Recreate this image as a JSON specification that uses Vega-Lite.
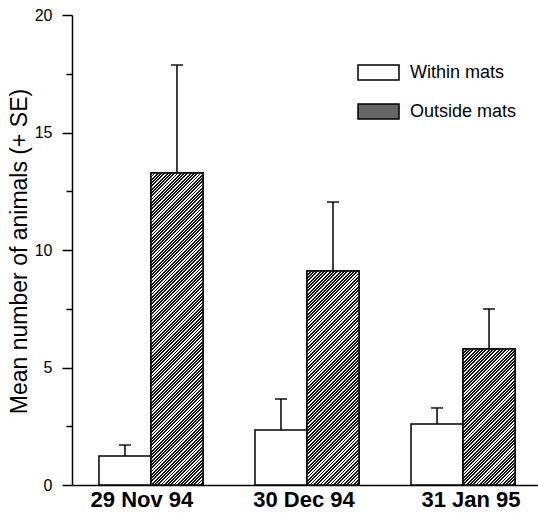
{
  "$schema": "https://vega.github.io/schema/vega-lite/v6.json",
  "width": 466,
  "height": 470,
  "autosize": {"type": "none"},
  "padding": {"left": 72, "top": 15, "right": 0, "bottom": 32},
  "background": "white",
  "config": {"view": {"stroke": null}, "font": "Liberation Sans"},
  "data": {
    "values": [
      {"date": "29 Nov 94", "site": "Within mats", "mean": 1.23, "upper": 1.7},
      {"date": "29 Nov 94", "site": "Outside mats", "mean": 13.28, "upper": 17.87},
      {"date": "30 Dec 94", "site": "Within mats", "mean": 2.34, "upper": 3.66},
      {"date": "30 Dec 94", "site": "Outside mats", "mean": 9.11, "upper": 12.04},
      {"date": "31 Jan 95", "site": "Within mats", "mean": 2.6, "upper": 3.28},
      {"date": "31 Jan 95", "site": "Outside mats", "mean": 5.79, "upper": 7.49}
    ]
  },
  "encoding": {
    "x": {
      "field": "date",
      "type": "nominal",
      "sort": null,
      "scale": {"paddingInner": 0.3333, "paddingOuter": 0.16, "align": 0.54},
      "axis": {
        "title": null,
        "ticks": false,
        "domainColor": "black",
        "domainWidth": 1.5,
        "labelAngle": 0,
        "labelFontSize": 22,
        "labelFontWeight": "bold",
        "labelColor": "black",
        "labelPadding": 4,
        "labelOffset": {
          "condition": [
            {"test": "datum.value === '29 Nov 94'", "value": -9},
            {"test": "datum.value === '31 Jan 95'", "value": 8}
          ],
          "value": -3
        }
      }
    },
    "xOffset": {
      "field": "site",
      "type": "nominal",
      "sort": ["Within mats", "Outside mats"],
      "scale": {"paddingInner": 0, "paddingOuter": 0}
    }
  },
  "layer": [
    {
      "mark": {"type": "bar", "stroke": "black", "strokeWidth": 1.5},
      "encoding": {
        "y": {
          "field": "mean",
          "type": "quantitative",
          "scale": {"domain": [0, 20], "nice": false},
          "axis": {
            "title": "Mean number of animals (+ SE)",
            "values": [0, 2.5, 5, 7.5, 10, 12.5, 15, 17.5, 20],
            "labelExpr": "datum.value % 5 === 0 ? format(datum.value, 'd') : ''",
            "tickSize": {"condition": {"test": "datum.value % 5 === 0", "value": 10}, "value": 6},
            "domainColor": "black",
            "domainWidth": 1.5,
            "tickColor": "black",
            "tickWidth": 1.5,
            "labelFontSize": 16,
            "labelColor": "black",
            "labelPadding": 10,
            "titleFontSize": 23,
            "titleFontWeight": "normal",
            "titleColor": "black",
            "titleX": -46,
            "titleY": 236,
            "titleAlign": "center",
            "titleBaseline": "alphabetic",
            "grid": false
          }
        },
        "color": {
          "field": "site",
          "type": "nominal",
          "sort": ["Within mats", "Outside mats"],
          "scale": {"domain": ["Within mats", "Outside mats"], "range": ["white", "#666666"]},
          "legend": {
            "title": null,
            "orient": "none",
            "legendX": 285,
            "legendY": 36,
            "padding": 0,
            "symbolType": "M-1,-0.366H1V0.366H-1Z",
            "symbolSize": 1681,
            "symbolStrokeColor": "black",
            "symbolStrokeWidth": 1.5,
            "symbolOpacity": 1,
            "labelFontSize": 18,
            "labelColor": "black",
            "labelOffset": 10,
            "rowPadding": 6
          }
        }
      }
    },
    {
      "transform": [{"filter": "datum.site === 'Outside mats' && datum.date === '29 Nov 94'"}],
      "mark": {"type": "bar", "stroke": "black", "strokeWidth": 1.5,
        "fill": {"gradient": "linear", "x1": 0, "y1": 0, "x2": 0.18918, "y2": 1.13513, "stops": [
{"offset":0,"color":"#111"},{"offset":0.005,"color":"#111"},{"offset":0.005,"color":"#fff"},{"offset":0.009,"color":"#fff"},
{"offset":0.009,"color":"#111"},{"offset":0.014,"color":"#111"},{"offset":0.014,"color":"#fff"},{"offset":0.018,"color":"#fff"},
{"offset":0.018,"color":"#111"},{"offset":0.023,"color":"#111"},{"offset":0.023,"color":"#fff"},{"offset":0.027,"color":"#fff"},
{"offset":0.027,"color":"#111"},{"offset":0.032,"color":"#111"},{"offset":0.032,"color":"#fff"},{"offset":0.036,"color":"#fff"},
{"offset":0.036,"color":"#111"},{"offset":0.041,"color":"#111"},{"offset":0.041,"color":"#fff"},{"offset":0.045,"color":"#fff"},
{"offset":0.045,"color":"#111"},{"offset":0.05,"color":"#111"},{"offset":0.05,"color":"#fff"},{"offset":0.054,"color":"#fff"},
{"offset":0.054,"color":"#111"},{"offset":0.059,"color":"#111"},{"offset":0.059,"color":"#fff"},{"offset":0.063,"color":"#fff"},
{"offset":0.063,"color":"#111"},{"offset":0.068,"color":"#111"},{"offset":0.068,"color":"#fff"},{"offset":0.072,"color":"#fff"},
{"offset":0.072,"color":"#111"},{"offset":0.077,"color":"#111"},{"offset":0.077,"color":"#fff"},{"offset":0.081,"color":"#fff"},
{"offset":0.081,"color":"#111"},{"offset":0.086,"color":"#111"},{"offset":0.086,"color":"#fff"},{"offset":0.09,"color":"#fff"},
{"offset":0.09,"color":"#111"},{"offset":0.095,"color":"#111"},{"offset":0.095,"color":"#fff"},{"offset":0.099,"color":"#fff"},
{"offset":0.099,"color":"#111"},{"offset":0.104,"color":"#111"},{"offset":0.104,"color":"#fff"},{"offset":0.108,"color":"#fff"},
{"offset":0.108,"color":"#111"},{"offset":0.113,"color":"#111"},{"offset":0.113,"color":"#fff"},{"offset":0.117,"color":"#fff"},
{"offset":0.117,"color":"#111"},{"offset":0.122,"color":"#111"},{"offset":0.122,"color":"#fff"},{"offset":0.126,"color":"#fff"},
{"offset":0.126,"color":"#111"},{"offset":0.131,"color":"#111"},{"offset":0.131,"color":"#fff"},{"offset":0.135,"color":"#fff"},
{"offset":0.135,"color":"#111"},{"offset":0.14,"color":"#111"},{"offset":0.14,"color":"#fff"},{"offset":0.144,"color":"#fff"},
{"offset":0.144,"color":"#111"},{"offset":0.149,"color":"#111"},{"offset":0.149,"color":"#fff"},{"offset":0.153,"color":"#fff"},
{"offset":0.153,"color":"#111"},{"offset":0.158,"color":"#111"},{"offset":0.158,"color":"#fff"},{"offset":0.162,"color":"#fff"},
{"offset":0.162,"color":"#111"},{"offset":0.167,"color":"#111"},{"offset":0.167,"color":"#fff"},{"offset":0.171,"color":"#fff"},
{"offset":0.171,"color":"#111"},{"offset":0.176,"color":"#111"},{"offset":0.176,"color":"#fff"},{"offset":0.18,"color":"#fff"},
{"offset":0.18,"color":"#111"},{"offset":0.185,"color":"#111"},{"offset":0.185,"color":"#fff"},{"offset":0.189,"color":"#fff"},
{"offset":0.189,"color":"#111"},{"offset":0.194,"color":"#111"},{"offset":0.194,"color":"#fff"},{"offset":0.198,"color":"#fff"},
{"offset":0.198,"color":"#111"},{"offset":0.203,"color":"#111"},{"offset":0.203,"color":"#fff"},{"offset":0.207,"color":"#fff"},
{"offset":0.207,"color":"#111"},{"offset":0.212,"color":"#111"},{"offset":0.212,"color":"#fff"},{"offset":0.216,"color":"#fff"},
{"offset":0.216,"color":"#111"},{"offset":0.221,"color":"#111"},{"offset":0.221,"color":"#fff"},{"offset":0.225,"color":"#fff"},
{"offset":0.225,"color":"#111"},{"offset":0.23,"color":"#111"},{"offset":0.23,"color":"#fff"},{"offset":0.234,"color":"#fff"},
{"offset":0.234,"color":"#111"},{"offset":0.239,"color":"#111"},{"offset":0.239,"color":"#fff"},{"offset":0.243,"color":"#fff"},
{"offset":0.243,"color":"#111"},{"offset":0.248,"color":"#111"},{"offset":0.248,"color":"#fff"},{"offset":0.252,"color":"#fff"},
{"offset":0.252,"color":"#111"},{"offset":0.257,"color":"#111"},{"offset":0.257,"color":"#fff"},{"offset":0.261,"color":"#fff"},
{"offset":0.261,"color":"#111"},{"offset":0.266,"color":"#111"},{"offset":0.266,"color":"#fff"},{"offset":0.27,"color":"#fff"},
{"offset":0.27,"color":"#111"},{"offset":0.275,"color":"#111"},{"offset":0.275,"color":"#fff"},{"offset":0.279,"color":"#fff"},
{"offset":0.279,"color":"#111"},{"offset":0.284,"color":"#111"},{"offset":0.284,"color":"#fff"},{"offset":0.288,"color":"#fff"},
{"offset":0.288,"color":"#111"},{"offset":0.293,"color":"#111"},{"offset":0.293,"color":"#fff"},{"offset":0.297,"color":"#fff"},
{"offset":0.297,"color":"#111"},{"offset":0.302,"color":"#111"},{"offset":0.302,"color":"#fff"},{"offset":0.306,"color":"#fff"},
{"offset":0.306,"color":"#111"},{"offset":0.311,"color":"#111"},{"offset":0.311,"color":"#fff"},{"offset":0.315,"color":"#fff"},
{"offset":0.315,"color":"#111"},{"offset":0.32,"color":"#111"},{"offset":0.32,"color":"#fff"},{"offset":0.324,"color":"#fff"},
{"offset":0.324,"color":"#111"},{"offset":0.329,"color":"#111"},{"offset":0.329,"color":"#fff"},{"offset":0.333,"color":"#fff"},
{"offset":0.333,"color":"#111"},{"offset":0.338,"color":"#111"},{"offset":0.338,"color":"#fff"},{"offset":0.342,"color":"#fff"},
{"offset":0.342,"color":"#111"},{"offset":0.347,"color":"#111"},{"offset":0.347,"color":"#fff"},{"offset":0.351,"color":"#fff"},
{"offset":0.351,"color":"#111"},{"offset":0.356,"color":"#111"},{"offset":0.356,"color":"#fff"},{"offset":0.36,"color":"#fff"},
{"offset":0.36,"color":"#111"},{"offset":0.365,"color":"#111"},{"offset":0.365,"color":"#fff"},{"offset":0.369,"color":"#fff"},
{"offset":0.369,"color":"#111"},{"offset":0.374,"color":"#111"},{"offset":0.374,"color":"#fff"},{"offset":0.378,"color":"#fff"},
{"offset":0.378,"color":"#111"},{"offset":0.383,"color":"#111"},{"offset":0.383,"color":"#fff"},{"offset":0.387,"color":"#fff"},
{"offset":0.387,"color":"#111"},{"offset":0.392,"color":"#111"},{"offset":0.392,"color":"#fff"},{"offset":0.396,"color":"#fff"},
{"offset":0.396,"color":"#111"},{"offset":0.401,"color":"#111"},{"offset":0.401,"color":"#fff"},{"offset":0.405,"color":"#fff"},
{"offset":0.405,"color":"#111"},{"offset":0.41,"color":"#111"},{"offset":0.41,"color":"#fff"},{"offset":0.414,"color":"#fff"},
{"offset":0.414,"color":"#111"},{"offset":0.419,"color":"#111"},{"offset":0.419,"color":"#fff"},{"offset":0.423,"color":"#fff"},
{"offset":0.423,"color":"#111"},{"offset":0.428,"color":"#111"},{"offset":0.428,"color":"#fff"},{"offset":0.432,"color":"#fff"},
{"offset":0.432,"color":"#111"},{"offset":0.437,"color":"#111"},{"offset":0.437,"color":"#fff"},{"offset":0.441,"color":"#fff"},
{"offset":0.441,"color":"#111"},{"offset":0.446,"color":"#111"},{"offset":0.446,"color":"#fff"},{"offset":0.45,"color":"#fff"},
{"offset":0.45,"color":"#111"},{"offset":0.455,"color":"#111"},{"offset":0.455,"color":"#fff"},{"offset":0.459,"color":"#fff"},
{"offset":0.459,"color":"#111"},{"offset":0.464,"color":"#111"},{"offset":0.464,"color":"#fff"},{"offset":0.468,"color":"#fff"},
{"offset":0.468,"color":"#111"},{"offset":0.473,"color":"#111"},{"offset":0.473,"color":"#fff"},{"offset":0.477,"color":"#fff"},
{"offset":0.477,"color":"#111"},{"offset":0.482,"color":"#111"},{"offset":0.482,"color":"#fff"},{"offset":0.486,"color":"#fff"},
{"offset":0.486,"color":"#111"},{"offset":0.491,"color":"#111"},{"offset":0.491,"color":"#fff"},{"offset":0.495,"color":"#fff"},
{"offset":0.495,"color":"#111"},{"offset":0.5,"color":"#111"},{"offset":0.5,"color":"#fff"},{"offset":0.504,"color":"#fff"},
{"offset":0.504,"color":"#111"},{"offset":0.509,"color":"#111"},{"offset":0.509,"color":"#fff"},{"offset":0.513,"color":"#fff"},
{"offset":0.513,"color":"#111"},{"offset":0.518,"color":"#111"},{"offset":0.518,"color":"#fff"},{"offset":0.522,"color":"#fff"},
{"offset":0.522,"color":"#111"},{"offset":0.527,"color":"#111"},{"offset":0.527,"color":"#fff"},{"offset":0.531,"color":"#fff"},
{"offset":0.531,"color":"#111"},{"offset":0.536,"color":"#111"},{"offset":0.536,"color":"#fff"},{"offset":0.54,"color":"#fff"},
{"offset":0.54,"color":"#111"},{"offset":0.545,"color":"#111"},{"offset":0.545,"color":"#fff"},{"offset":0.549,"color":"#fff"},
{"offset":0.549,"color":"#111"},{"offset":0.554,"color":"#111"},{"offset":0.554,"color":"#fff"},{"offset":0.558,"color":"#fff"},
{"offset":0.558,"color":"#111"},{"offset":0.563,"color":"#111"},{"offset":0.563,"color":"#fff"},{"offset":0.567,"color":"#fff"},
{"offset":0.567,"color":"#111"},{"offset":0.572,"color":"#111"},{"offset":0.572,"color":"#fff"},{"offset":0.576,"color":"#fff"},
{"offset":0.576,"color":"#111"},{"offset":0.581,"color":"#111"},{"offset":0.581,"color":"#fff"},{"offset":0.585,"color":"#fff"},
{"offset":0.585,"color":"#111"},{"offset":0.59,"color":"#111"},{"offset":0.59,"color":"#fff"},{"offset":0.594,"color":"#fff"},
{"offset":0.594,"color":"#111"},{"offset":0.599,"color":"#111"},{"offset":0.599,"color":"#fff"},{"offset":0.603,"color":"#fff"},
{"offset":0.603,"color":"#111"},{"offset":0.608,"color":"#111"},{"offset":0.608,"color":"#fff"},{"offset":0.612,"color":"#fff"},
{"offset":0.612,"color":"#111"},{"offset":0.617,"color":"#111"},{"offset":0.617,"color":"#fff"},{"offset":0.621,"color":"#fff"},
{"offset":0.621,"color":"#111"},{"offset":0.626,"color":"#111"},{"offset":0.626,"color":"#fff"},{"offset":0.63,"color":"#fff"},
{"offset":0.63,"color":"#111"},{"offset":0.635,"color":"#111"},{"offset":0.635,"color":"#fff"},{"offset":0.639,"color":"#fff"},
{"offset":0.639,"color":"#111"},{"offset":0.644,"color":"#111"},{"offset":0.644,"color":"#fff"},{"offset":0.648,"color":"#fff"},
{"offset":0.648,"color":"#111"},{"offset":0.653,"color":"#111"},{"offset":0.653,"color":"#fff"},{"offset":0.657,"color":"#fff"},
{"offset":0.657,"color":"#111"},{"offset":0.662,"color":"#111"},{"offset":0.662,"color":"#fff"},{"offset":0.666,"color":"#fff"},
{"offset":0.666,"color":"#111"},{"offset":0.671,"color":"#111"},{"offset":0.671,"color":"#fff"},{"offset":0.675,"color":"#fff"},
{"offset":0.675,"color":"#111"},{"offset":0.68,"color":"#111"},{"offset":0.68,"color":"#fff"},{"offset":0.684,"color":"#fff"},
{"offset":0.684,"color":"#111"},{"offset":0.689,"color":"#111"},{"offset":0.689,"color":"#fff"},{"offset":0.693,"color":"#fff"},
{"offset":0.693,"color":"#111"},{"offset":0.698,"color":"#111"},{"offset":0.698,"color":"#fff"},{"offset":0.702,"color":"#fff"},
{"offset":0.702,"color":"#111"},{"offset":0.707,"color":"#111"},{"offset":0.707,"color":"#fff"},{"offset":0.711,"color":"#fff"},
{"offset":0.711,"color":"#111"},{"offset":0.716,"color":"#111"},{"offset":0.716,"color":"#fff"},{"offset":0.72,"color":"#fff"},
{"offset":0.72,"color":"#111"},{"offset":0.725,"color":"#111"},{"offset":0.725,"color":"#fff"},{"offset":0.729,"color":"#fff"},
{"offset":0.729,"color":"#111"},{"offset":0.734,"color":"#111"},{"offset":0.734,"color":"#fff"},{"offset":0.738,"color":"#fff"},
{"offset":0.738,"color":"#111"},{"offset":0.743,"color":"#111"},{"offset":0.743,"color":"#fff"},{"offset":0.747,"color":"#fff"},
{"offset":0.747,"color":"#111"},{"offset":0.752,"color":"#111"},{"offset":0.752,"color":"#fff"},{"offset":0.756,"color":"#fff"},
{"offset":0.756,"color":"#111"},{"offset":0.761,"color":"#111"},{"offset":0.761,"color":"#fff"},{"offset":0.765,"color":"#fff"},
{"offset":0.765,"color":"#111"},{"offset":0.77,"color":"#111"},{"offset":0.77,"color":"#fff"},{"offset":0.774,"color":"#fff"},
{"offset":0.774,"color":"#111"},{"offset":0.779,"color":"#111"},{"offset":0.779,"color":"#fff"},{"offset":0.783,"color":"#fff"},
{"offset":0.783,"color":"#111"},{"offset":0.788,"color":"#111"},{"offset":0.788,"color":"#fff"},{"offset":0.792,"color":"#fff"},
{"offset":0.792,"color":"#111"},{"offset":0.797,"color":"#111"},{"offset":0.797,"color":"#fff"},{"offset":0.801,"color":"#fff"},
{"offset":0.801,"color":"#111"},{"offset":0.806,"color":"#111"},{"offset":0.806,"color":"#fff"},{"offset":0.81,"color":"#fff"},
{"offset":0.81,"color":"#111"},{"offset":0.815,"color":"#111"},{"offset":0.815,"color":"#fff"},{"offset":0.819,"color":"#fff"},
{"offset":0.819,"color":"#111"},{"offset":0.824,"color":"#111"},{"offset":0.824,"color":"#fff"},{"offset":0.828,"color":"#fff"},
{"offset":0.828,"color":"#111"},{"offset":0.833,"color":"#111"},{"offset":0.833,"color":"#fff"},{"offset":0.837,"color":"#fff"},
{"offset":0.837,"color":"#111"},{"offset":0.842,"color":"#111"},{"offset":0.842,"color":"#fff"},{"offset":0.846,"color":"#fff"},
{"offset":0.846,"color":"#111"},{"offset":0.851,"color":"#111"},{"offset":0.851,"color":"#fff"},{"offset":0.855,"color":"#fff"},
{"offset":0.855,"color":"#111"},{"offset":0.86,"color":"#111"},{"offset":0.86,"color":"#fff"},{"offset":0.864,"color":"#fff"},
{"offset":0.864,"color":"#111"},{"offset":0.869,"color":"#111"},{"offset":0.869,"color":"#fff"},{"offset":0.873,"color":"#fff"},
{"offset":0.873,"color":"#111"},{"offset":0.878,"color":"#111"},{"offset":0.878,"color":"#fff"},{"offset":0.882,"color":"#fff"},
{"offset":0.882,"color":"#111"},{"offset":0.887,"color":"#111"},{"offset":0.887,"color":"#fff"},{"offset":0.891,"color":"#fff"},
{"offset":0.891,"color":"#111"},{"offset":0.896,"color":"#111"},{"offset":0.896,"color":"#fff"},{"offset":0.9,"color":"#fff"},
{"offset":0.9,"color":"#111"},{"offset":0.905,"color":"#111"},{"offset":0.905,"color":"#fff"},{"offset":0.909,"color":"#fff"},
{"offset":0.909,"color":"#111"},{"offset":0.914,"color":"#111"},{"offset":0.914,"color":"#fff"},{"offset":0.918,"color":"#fff"},
{"offset":0.918,"color":"#111"},{"offset":0.923,"color":"#111"},{"offset":0.923,"color":"#fff"},{"offset":0.927,"color":"#fff"},
{"offset":0.927,"color":"#111"},{"offset":0.932,"color":"#111"},{"offset":0.932,"color":"#fff"},{"offset":0.936,"color":"#fff"},
{"offset":0.936,"color":"#111"},{"offset":0.941,"color":"#111"},{"offset":0.941,"color":"#fff"},{"offset":0.945,"color":"#fff"},
{"offset":0.945,"color":"#111"},{"offset":0.95,"color":"#111"},{"offset":0.95,"color":"#fff"},{"offset":0.954,"color":"#fff"},
{"offset":0.954,"color":"#111"},{"offset":0.959,"color":"#111"},{"offset":0.959,"color":"#fff"},{"offset":0.963,"color":"#fff"},
{"offset":0.963,"color":"#111"},{"offset":0.968,"color":"#111"},{"offset":0.968,"color":"#fff"},{"offset":0.972,"color":"#fff"},
{"offset":0.972,"color":"#111"},{"offset":0.977,"color":"#111"},{"offset":0.977,"color":"#fff"},{"offset":0.981,"color":"#fff"},
{"offset":0.981,"color":"#111"},{"offset":0.986,"color":"#111"},{"offset":0.986,"color":"#fff"},{"offset":0.99,"color":"#fff"},
{"offset":0.99,"color":"#111"},{"offset":0.995,"color":"#111"},{"offset":0.995,"color":"#fff"},{"offset":0.999,"color":"#fff"},
{"offset":0.999,"color":"#111"},{"offset":1,"color":"#111"}
        ]}
      },
      "encoding": {"y": {"field": "mean", "type": "quantitative"}}
    },
    {
      "transform": [{"filter": "datum.site === 'Outside mats' && datum.date === '30 Dec 94'"}],
      "mark": {"type": "bar", "stroke": "black", "strokeWidth": 1.5,
        "fill": {"gradient": "linear", "x1": 0, "y1": 0, "x2": 0.28513, "y2": 1.17367, "stops": [
{"offset":0,"color":"#111"},{"offset":0.007,"color":"#111"},{"offset":0.007,"color":"#fff"},{"offset":0.0125,"color":"#fff"},
{"offset":0.0125,"color":"#111"},{"offset":0.0195,"color":"#111"},{"offset":0.0195,"color":"#fff"},{"offset":0.025,"color":"#fff"},
{"offset":0.025,"color":"#111"},{"offset":0.032,"color":"#111"},{"offset":0.032,"color":"#fff"},{"offset":0.0375,"color":"#fff"},
{"offset":0.0375,"color":"#111"},{"offset":0.0445,"color":"#111"},{"offset":0.0445,"color":"#fff"},{"offset":0.05,"color":"#fff"},
{"offset":0.05,"color":"#111"},{"offset":0.057,"color":"#111"},{"offset":0.057,"color":"#fff"},{"offset":0.0625,"color":"#fff"},
{"offset":0.0625,"color":"#111"},{"offset":0.0695,"color":"#111"},{"offset":0.0695,"color":"#fff"},{"offset":0.075,"color":"#fff"},
{"offset":0.075,"color":"#111"},{"offset":0.082,"color":"#111"},{"offset":0.082,"color":"#fff"},{"offset":0.0875,"color":"#fff"},
{"offset":0.0875,"color":"#111"},{"offset":0.0945,"color":"#111"},{"offset":0.0945,"color":"#fff"},{"offset":0.1,"color":"#fff"},
{"offset":0.1,"color":"#111"},{"offset":0.107,"color":"#111"},{"offset":0.107,"color":"#fff"},{"offset":0.1125,"color":"#fff"},
{"offset":0.1125,"color":"#111"},{"offset":0.1195,"color":"#111"},{"offset":0.1195,"color":"#fff"},{"offset":0.125,"color":"#fff"},
{"offset":0.125,"color":"#111"},{"offset":0.132,"color":"#111"},{"offset":0.132,"color":"#fff"},{"offset":0.1375,"color":"#fff"},
{"offset":0.1375,"color":"#111"},{"offset":0.1445,"color":"#111"},{"offset":0.1445,"color":"#fff"},{"offset":0.15,"color":"#fff"},
{"offset":0.15,"color":"#111"},{"offset":0.157,"color":"#111"},{"offset":0.157,"color":"#fff"},{"offset":0.1625,"color":"#fff"},
{"offset":0.1625,"color":"#111"},{"offset":0.1695,"color":"#111"},{"offset":0.1695,"color":"#fff"},{"offset":0.175,"color":"#fff"},
{"offset":0.175,"color":"#111"},{"offset":0.182,"color":"#111"},{"offset":0.182,"color":"#fff"},{"offset":0.1875,"color":"#fff"},
{"offset":0.1875,"color":"#111"},{"offset":0.1945,"color":"#111"},{"offset":0.1945,"color":"#fff"},{"offset":0.2,"color":"#fff"},
{"offset":0.2,"color":"#111"},{"offset":0.207,"color":"#111"},{"offset":0.207,"color":"#fff"},{"offset":0.2125,"color":"#fff"},
{"offset":0.2125,"color":"#111"},{"offset":0.2195,"color":"#111"},{"offset":0.2195,"color":"#fff"},{"offset":0.225,"color":"#fff"},
{"offset":0.225,"color":"#111"},{"offset":0.232,"color":"#111"},{"offset":0.232,"color":"#fff"},{"offset":0.2375,"color":"#fff"},
{"offset":0.2375,"color":"#111"},{"offset":0.2445,"color":"#111"},{"offset":0.2445,"color":"#fff"},{"offset":0.25,"color":"#fff"},
{"offset":0.25,"color":"#111"},{"offset":0.257,"color":"#111"},{"offset":0.257,"color":"#fff"},{"offset":0.2625,"color":"#fff"},
{"offset":0.2625,"color":"#111"},{"offset":0.2695,"color":"#111"},{"offset":0.2695,"color":"#fff"},{"offset":0.275,"color":"#fff"},
{"offset":0.275,"color":"#111"},{"offset":0.282,"color":"#111"},{"offset":0.282,"color":"#fff"},{"offset":0.2875,"color":"#fff"},
{"offset":0.2875,"color":"#111"},{"offset":0.2945,"color":"#111"},{"offset":0.2945,"color":"#fff"},{"offset":0.3,"color":"#fff"},
{"offset":0.3,"color":"#111"},{"offset":0.307,"color":"#111"},{"offset":0.307,"color":"#fff"},{"offset":0.3125,"color":"#fff"},
{"offset":0.3125,"color":"#111"},{"offset":0.3195,"color":"#111"},{"offset":0.3195,"color":"#fff"},{"offset":0.325,"color":"#fff"},
{"offset":0.325,"color":"#111"},{"offset":0.332,"color":"#111"},{"offset":0.332,"color":"#fff"},{"offset":0.3375,"color":"#fff"},
{"offset":0.3375,"color":"#111"},{"offset":0.3445,"color":"#111"},{"offset":0.3445,"color":"#fff"},{"offset":0.35,"color":"#fff"},
{"offset":0.35,"color":"#111"},{"offset":0.357,"color":"#111"},{"offset":0.357,"color":"#fff"},{"offset":0.3625,"color":"#fff"},
{"offset":0.3625,"color":"#111"},{"offset":0.3695,"color":"#111"},{"offset":0.3695,"color":"#fff"},{"offset":0.375,"color":"#fff"},
{"offset":0.375,"color":"#111"},{"offset":0.382,"color":"#111"},{"offset":0.382,"color":"#fff"},{"offset":0.3875,"color":"#fff"},
{"offset":0.3875,"color":"#111"},{"offset":0.3945,"color":"#111"},{"offset":0.3945,"color":"#fff"},{"offset":0.4,"color":"#fff"},
{"offset":0.4,"color":"#111"},{"offset":0.407,"color":"#111"},{"offset":0.407,"color":"#fff"},{"offset":0.4125,"color":"#fff"},
{"offset":0.4125,"color":"#111"},{"offset":0.4195,"color":"#111"},{"offset":0.4195,"color":"#fff"},{"offset":0.425,"color":"#fff"},
{"offset":0.425,"color":"#111"},{"offset":0.432,"color":"#111"},{"offset":0.432,"color":"#fff"},{"offset":0.4375,"color":"#fff"},
{"offset":0.4375,"color":"#111"},{"offset":0.4445,"color":"#111"},{"offset":0.4445,"color":"#fff"},{"offset":0.45,"color":"#fff"},
{"offset":0.45,"color":"#111"},{"offset":0.457,"color":"#111"},{"offset":0.457,"color":"#fff"},{"offset":0.4625,"color":"#fff"},
{"offset":0.4625,"color":"#111"},{"offset":0.4695,"color":"#111"},{"offset":0.4695,"color":"#fff"},{"offset":0.475,"color":"#fff"},
{"offset":0.475,"color":"#111"},{"offset":0.482,"color":"#111"},{"offset":0.482,"color":"#fff"},{"offset":0.4875,"color":"#fff"},
{"offset":0.4875,"color":"#111"},{"offset":0.4945,"color":"#111"},{"offset":0.4945,"color":"#fff"},{"offset":0.5,"color":"#fff"},
{"offset":0.5,"color":"#111"},{"offset":0.507,"color":"#111"},{"offset":0.507,"color":"#fff"},{"offset":0.5125,"color":"#fff"},
{"offset":0.5125,"color":"#111"},{"offset":0.5195,"color":"#111"},{"offset":0.5195,"color":"#fff"},{"offset":0.525,"color":"#fff"},
{"offset":0.525,"color":"#111"},{"offset":0.532,"color":"#111"},{"offset":0.532,"color":"#fff"},{"offset":0.5375,"color":"#fff"},
{"offset":0.5375,"color":"#111"},{"offset":0.5445,"color":"#111"},{"offset":0.5445,"color":"#fff"},{"offset":0.55,"color":"#fff"},
{"offset":0.55,"color":"#111"},{"offset":0.557,"color":"#111"},{"offset":0.557,"color":"#fff"},{"offset":0.5625,"color":"#fff"},
{"offset":0.5625,"color":"#111"},{"offset":0.5695,"color":"#111"},{"offset":0.5695,"color":"#fff"},{"offset":0.575,"color":"#fff"},
{"offset":0.575,"color":"#111"},{"offset":0.582,"color":"#111"},{"offset":0.582,"color":"#fff"},{"offset":0.5875,"color":"#fff"},
{"offset":0.5875,"color":"#111"},{"offset":0.5945,"color":"#111"},{"offset":0.5945,"color":"#fff"},{"offset":0.6,"color":"#fff"},
{"offset":0.6,"color":"#111"},{"offset":0.607,"color":"#111"},{"offset":0.607,"color":"#fff"},{"offset":0.6125,"color":"#fff"},
{"offset":0.6125,"color":"#111"},{"offset":0.6195,"color":"#111"},{"offset":0.6195,"color":"#fff"},{"offset":0.625,"color":"#fff"},
{"offset":0.625,"color":"#111"},{"offset":0.632,"color":"#111"},{"offset":0.632,"color":"#fff"},{"offset":0.6375,"color":"#fff"},
{"offset":0.6375,"color":"#111"},{"offset":0.6445,"color":"#111"},{"offset":0.6445,"color":"#fff"},{"offset":0.65,"color":"#fff"},
{"offset":0.65,"color":"#111"},{"offset":0.657,"color":"#111"},{"offset":0.657,"color":"#fff"},{"offset":0.6625,"color":"#fff"},
{"offset":0.6625,"color":"#111"},{"offset":0.6695,"color":"#111"},{"offset":0.6695,"color":"#fff"},{"offset":0.675,"color":"#fff"},
{"offset":0.675,"color":"#111"},{"offset":0.682,"color":"#111"},{"offset":0.682,"color":"#fff"},{"offset":0.6875,"color":"#fff"},
{"offset":0.6875,"color":"#111"},{"offset":0.6945,"color":"#111"},{"offset":0.6945,"color":"#fff"},{"offset":0.7,"color":"#fff"},
{"offset":0.7,"color":"#111"},{"offset":0.707,"color":"#111"},{"offset":0.707,"color":"#fff"},{"offset":0.7125,"color":"#fff"},
{"offset":0.7125,"color":"#111"},{"offset":0.7195,"color":"#111"},{"offset":0.7195,"color":"#fff"},{"offset":0.725,"color":"#fff"},
{"offset":0.725,"color":"#111"},{"offset":0.732,"color":"#111"},{"offset":0.732,"color":"#fff"},{"offset":0.7375,"color":"#fff"},
{"offset":0.7375,"color":"#111"},{"offset":0.7445,"color":"#111"},{"offset":0.7445,"color":"#fff"},{"offset":0.75,"color":"#fff"},
{"offset":0.75,"color":"#111"},{"offset":0.757,"color":"#111"},{"offset":0.757,"color":"#fff"},{"offset":0.7625,"color":"#fff"},
{"offset":0.7625,"color":"#111"},{"offset":0.7695,"color":"#111"},{"offset":0.7695,"color":"#fff"},{"offset":0.775,"color":"#fff"},
{"offset":0.775,"color":"#111"},{"offset":0.782,"color":"#111"},{"offset":0.782,"color":"#fff"},{"offset":0.7875,"color":"#fff"},
{"offset":0.7875,"color":"#111"},{"offset":0.7945,"color":"#111"},{"offset":0.7945,"color":"#fff"},{"offset":0.8,"color":"#fff"},
{"offset":0.8,"color":"#111"},{"offset":0.807,"color":"#111"},{"offset":0.807,"color":"#fff"},{"offset":0.8125,"color":"#fff"},
{"offset":0.8125,"color":"#111"},{"offset":0.8195,"color":"#111"},{"offset":0.8195,"color":"#fff"},{"offset":0.825,"color":"#fff"},
{"offset":0.825,"color":"#111"},{"offset":0.832,"color":"#111"},{"offset":0.832,"color":"#fff"},{"offset":0.8375,"color":"#fff"},
{"offset":0.8375,"color":"#111"},{"offset":0.8445,"color":"#111"},{"offset":0.8445,"color":"#fff"},{"offset":0.85,"color":"#fff"},
{"offset":0.85,"color":"#111"},{"offset":0.857,"color":"#111"},{"offset":0.857,"color":"#fff"},{"offset":0.8625,"color":"#fff"},
{"offset":0.8625,"color":"#111"},{"offset":0.8695,"color":"#111"},{"offset":0.8695,"color":"#fff"},{"offset":0.875,"color":"#fff"},
{"offset":0.875,"color":"#111"},{"offset":0.882,"color":"#111"},{"offset":0.882,"color":"#fff"},{"offset":0.8875,"color":"#fff"},
{"offset":0.8875,"color":"#111"},{"offset":0.8945,"color":"#111"},{"offset":0.8945,"color":"#fff"},{"offset":0.9,"color":"#fff"},
{"offset":0.9,"color":"#111"},{"offset":0.907,"color":"#111"},{"offset":0.907,"color":"#fff"},{"offset":0.9125,"color":"#fff"},
{"offset":0.9125,"color":"#111"},{"offset":0.9195,"color":"#111"},{"offset":0.9195,"color":"#fff"},{"offset":0.925,"color":"#fff"},
{"offset":0.925,"color":"#111"},{"offset":0.932,"color":"#111"},{"offset":0.932,"color":"#fff"},{"offset":0.9375,"color":"#fff"},
{"offset":0.9375,"color":"#111"},{"offset":0.9445,"color":"#111"},{"offset":0.9445,"color":"#fff"},{"offset":0.95,"color":"#fff"},
{"offset":0.95,"color":"#111"},{"offset":0.957,"color":"#111"},{"offset":0.957,"color":"#fff"},{"offset":0.9625,"color":"#fff"},
{"offset":0.9625,"color":"#111"},{"offset":0.9695,"color":"#111"},{"offset":0.9695,"color":"#fff"},{"offset":0.975,"color":"#fff"},
{"offset":0.975,"color":"#111"},{"offset":0.982,"color":"#111"},{"offset":0.982,"color":"#fff"},{"offset":0.9875,"color":"#fff"},
{"offset":0.9875,"color":"#111"},{"offset":0.9945,"color":"#111"},{"offset":0.9945,"color":"#fff"},{"offset":1,"color":"#fff"}
        ]}
      },
      "encoding": {"y": {"field": "mean", "type": "quantitative"}}
    },
    {
      "transform": [{"filter": "datum.site === 'Outside mats' && datum.date === '31 Jan 95'"}],
      "mark": {"type": "bar", "stroke": "black", "strokeWidth": 1.5,
        "fill": {"gradient": "linear", "x1": 0, "y1": 0, "x2": 0.46098, "y2": 1.20603, "stops": [
{"offset":0,"color":"#111"},{"offset":0.01,"color":"#111"},{"offset":0.01,"color":"#fff"},{"offset":0.0175,"color":"#fff"},
{"offset":0.0175,"color":"#111"},{"offset":0.0275,"color":"#111"},{"offset":0.0275,"color":"#fff"},{"offset":0.035,"color":"#fff"},
{"offset":0.035,"color":"#111"},{"offset":0.045,"color":"#111"},{"offset":0.045,"color":"#fff"},{"offset":0.0525,"color":"#fff"},
{"offset":0.0525,"color":"#111"},{"offset":0.0625,"color":"#111"},{"offset":0.0625,"color":"#fff"},{"offset":0.07,"color":"#fff"},
{"offset":0.07,"color":"#111"},{"offset":0.08,"color":"#111"},{"offset":0.08,"color":"#fff"},{"offset":0.0875,"color":"#fff"},
{"offset":0.0875,"color":"#111"},{"offset":0.0975,"color":"#111"},{"offset":0.0975,"color":"#fff"},{"offset":0.105,"color":"#fff"},
{"offset":0.105,"color":"#111"},{"offset":0.115,"color":"#111"},{"offset":0.115,"color":"#fff"},{"offset":0.1225,"color":"#fff"},
{"offset":0.1225,"color":"#111"},{"offset":0.1325,"color":"#111"},{"offset":0.1325,"color":"#fff"},{"offset":0.14,"color":"#fff"},
{"offset":0.14,"color":"#111"},{"offset":0.15,"color":"#111"},{"offset":0.15,"color":"#fff"},{"offset":0.1575,"color":"#fff"},
{"offset":0.1575,"color":"#111"},{"offset":0.1675,"color":"#111"},{"offset":0.1675,"color":"#fff"},{"offset":0.175,"color":"#fff"},
{"offset":0.175,"color":"#111"},{"offset":0.185,"color":"#111"},{"offset":0.185,"color":"#fff"},{"offset":0.1925,"color":"#fff"},
{"offset":0.1925,"color":"#111"},{"offset":0.2025,"color":"#111"},{"offset":0.2025,"color":"#fff"},{"offset":0.21,"color":"#fff"},
{"offset":0.21,"color":"#111"},{"offset":0.22,"color":"#111"},{"offset":0.22,"color":"#fff"},{"offset":0.2275,"color":"#fff"},
{"offset":0.2275,"color":"#111"},{"offset":0.2375,"color":"#111"},{"offset":0.2375,"color":"#fff"},{"offset":0.245,"color":"#fff"},
{"offset":0.245,"color":"#111"},{"offset":0.255,"color":"#111"},{"offset":0.255,"color":"#fff"},{"offset":0.2625,"color":"#fff"},
{"offset":0.2625,"color":"#111"},{"offset":0.2725,"color":"#111"},{"offset":0.2725,"color":"#fff"},{"offset":0.28,"color":"#fff"},
{"offset":0.28,"color":"#111"},{"offset":0.29,"color":"#111"},{"offset":0.29,"color":"#fff"},{"offset":0.2975,"color":"#fff"},
{"offset":0.2975,"color":"#111"},{"offset":0.3075,"color":"#111"},{"offset":0.3075,"color":"#fff"},{"offset":0.315,"color":"#fff"},
{"offset":0.315,"color":"#111"},{"offset":0.325,"color":"#111"},{"offset":0.325,"color":"#fff"},{"offset":0.3325,"color":"#fff"},
{"offset":0.3325,"color":"#111"},{"offset":0.3425,"color":"#111"},{"offset":0.3425,"color":"#fff"},{"offset":0.35,"color":"#fff"},
{"offset":0.35,"color":"#111"},{"offset":0.36,"color":"#111"},{"offset":0.36,"color":"#fff"},{"offset":0.3675,"color":"#fff"},
{"offset":0.3675,"color":"#111"},{"offset":0.3775,"color":"#111"},{"offset":0.3775,"color":"#fff"},{"offset":0.385,"color":"#fff"},
{"offset":0.385,"color":"#111"},{"offset":0.395,"color":"#111"},{"offset":0.395,"color":"#fff"},{"offset":0.4025,"color":"#fff"},
{"offset":0.4025,"color":"#111"},{"offset":0.4125,"color":"#111"},{"offset":0.4125,"color":"#fff"},{"offset":0.42,"color":"#fff"},
{"offset":0.42,"color":"#111"},{"offset":0.43,"color":"#111"},{"offset":0.43,"color":"#fff"},{"offset":0.4375,"color":"#fff"},
{"offset":0.4375,"color":"#111"},{"offset":0.4475,"color":"#111"},{"offset":0.4475,"color":"#fff"},{"offset":0.455,"color":"#fff"},
{"offset":0.455,"color":"#111"},{"offset":0.465,"color":"#111"},{"offset":0.465,"color":"#fff"},{"offset":0.4725,"color":"#fff"},
{"offset":0.4725,"color":"#111"},{"offset":0.4825,"color":"#111"},{"offset":0.4825,"color":"#fff"},{"offset":0.49,"color":"#fff"},
{"offset":0.49,"color":"#111"},{"offset":0.5,"color":"#111"},{"offset":0.5,"color":"#fff"},{"offset":0.5075,"color":"#fff"},
{"offset":0.5075,"color":"#111"},{"offset":0.5175,"color":"#111"},{"offset":0.5175,"color":"#fff"},{"offset":0.525,"color":"#fff"},
{"offset":0.525,"color":"#111"},{"offset":0.535,"color":"#111"},{"offset":0.535,"color":"#fff"},{"offset":0.5425,"color":"#fff"},
{"offset":0.5425,"color":"#111"},{"offset":0.5525,"color":"#111"},{"offset":0.5525,"color":"#fff"},{"offset":0.56,"color":"#fff"},
{"offset":0.56,"color":"#111"},{"offset":0.57,"color":"#111"},{"offset":0.57,"color":"#fff"},{"offset":0.5775,"color":"#fff"},
{"offset":0.5775,"color":"#111"},{"offset":0.5875,"color":"#111"},{"offset":0.5875,"color":"#fff"},{"offset":0.595,"color":"#fff"},
{"offset":0.595,"color":"#111"},{"offset":0.605,"color":"#111"},{"offset":0.605,"color":"#fff"},{"offset":0.6125,"color":"#fff"},
{"offset":0.6125,"color":"#111"},{"offset":0.6225,"color":"#111"},{"offset":0.6225,"color":"#fff"},{"offset":0.63,"color":"#fff"},
{"offset":0.63,"color":"#111"},{"offset":0.64,"color":"#111"},{"offset":0.64,"color":"#fff"},{"offset":0.6475,"color":"#fff"},
{"offset":0.6475,"color":"#111"},{"offset":0.6575,"color":"#111"},{"offset":0.6575,"color":"#fff"},{"offset":0.665,"color":"#fff"},
{"offset":0.665,"color":"#111"},{"offset":0.675,"color":"#111"},{"offset":0.675,"color":"#fff"},{"offset":0.6825,"color":"#fff"},
{"offset":0.6825,"color":"#111"},{"offset":0.6925,"color":"#111"},{"offset":0.6925,"color":"#fff"},{"offset":0.7,"color":"#fff"},
{"offset":0.7,"color":"#111"},{"offset":0.71,"color":"#111"},{"offset":0.71,"color":"#fff"},{"offset":0.7175,"color":"#fff"},
{"offset":0.7175,"color":"#111"},{"offset":0.7275,"color":"#111"},{"offset":0.7275,"color":"#fff"},{"offset":0.735,"color":"#fff"},
{"offset":0.735,"color":"#111"},{"offset":0.745,"color":"#111"},{"offset":0.745,"color":"#fff"},{"offset":0.7525,"color":"#fff"},
{"offset":0.7525,"color":"#111"},{"offset":0.7625,"color":"#111"},{"offset":0.7625,"color":"#fff"},{"offset":0.77,"color":"#fff"},
{"offset":0.77,"color":"#111"},{"offset":0.78,"color":"#111"},{"offset":0.78,"color":"#fff"},{"offset":0.7875,"color":"#fff"},
{"offset":0.7875,"color":"#111"},{"offset":0.7975,"color":"#111"},{"offset":0.7975,"color":"#fff"},{"offset":0.805,"color":"#fff"},
{"offset":0.805,"color":"#111"},{"offset":0.815,"color":"#111"},{"offset":0.815,"color":"#fff"},{"offset":0.8225,"color":"#fff"},
{"offset":0.8225,"color":"#111"},{"offset":0.8325,"color":"#111"},{"offset":0.8325,"color":"#fff"},{"offset":0.84,"color":"#fff"},
{"offset":0.84,"color":"#111"},{"offset":0.85,"color":"#111"},{"offset":0.85,"color":"#fff"},{"offset":0.8575,"color":"#fff"},
{"offset":0.8575,"color":"#111"},{"offset":0.8675,"color":"#111"},{"offset":0.8675,"color":"#fff"},{"offset":0.875,"color":"#fff"},
{"offset":0.875,"color":"#111"},{"offset":0.885,"color":"#111"},{"offset":0.885,"color":"#fff"},{"offset":0.8925,"color":"#fff"},
{"offset":0.8925,"color":"#111"},{"offset":0.9025,"color":"#111"},{"offset":0.9025,"color":"#fff"},{"offset":0.91,"color":"#fff"},
{"offset":0.91,"color":"#111"},{"offset":0.92,"color":"#111"},{"offset":0.92,"color":"#fff"},{"offset":0.9275,"color":"#fff"},
{"offset":0.9275,"color":"#111"},{"offset":0.9375,"color":"#111"},{"offset":0.9375,"color":"#fff"},{"offset":0.945,"color":"#fff"},
{"offset":0.945,"color":"#111"},{"offset":0.955,"color":"#111"},{"offset":0.955,"color":"#fff"},{"offset":0.9625,"color":"#fff"},
{"offset":0.9625,"color":"#111"},{"offset":0.9725,"color":"#111"},{"offset":0.9725,"color":"#fff"},{"offset":0.98,"color":"#fff"},
{"offset":0.98,"color":"#111"},{"offset":0.99,"color":"#111"},{"offset":0.99,"color":"#fff"},{"offset":0.9975,"color":"#fff"},
{"offset":0.9975,"color":"#111"},{"offset":1,"color":"#111"}
        ]}
      },
      "encoding": {"y": {"field": "mean", "type": "quantitative"}}
    },
    {
      "mark": {"type": "rule", "color": "black", "strokeWidth": 1.5},
      "encoding": {
        "y": {"field": "mean", "type": "quantitative"},
        "y2": {"field": "upper"}
      }
    },
    {
      "mark": {"type": "tick", "color": "black", "thickness": 2, "size": 12},
      "encoding": {
        "y": {"field": "upper", "type": "quantitative"}
      }
    }
  ]
}
